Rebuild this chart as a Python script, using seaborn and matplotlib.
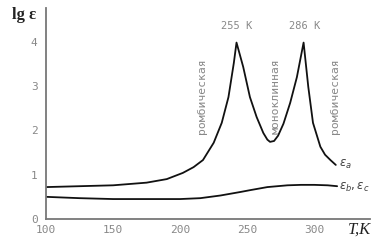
import matplotlib
matplotlib.use("Agg")
import matplotlib.pyplot as plt
import seaborn as sns
import pandas as pd

# Data
T_a = [100, 125, 150, 175, 190, 202, 210, 217, 225, 231, 236, 240, 242, 247, 252,
       257, 262, 265, 267, 270, 273, 277, 282, 287, 292, 295.5, 299, 304.5, 308, 312, 316]
eps_a = [0.72, 0.74, 0.76, 0.82, 0.90, 1.04, 1.17, 1.33, 1.72, 2.17, 2.75, 3.52, 3.98,
         3.43, 2.75, 2.30, 1.94, 1.79, 1.74, 1.76, 1.88, 2.15, 2.62, 3.20, 3.98, 2.98,
         2.17, 1.63, 1.45, 1.33, 1.22]
T_bc = [100, 125, 150, 175, 200, 215, 230, 245, 252, 265, 280, 290, 300, 310, 317]
eps_bc = [0.50, 0.47, 0.45, 0.45, 0.45, 0.47, 0.53, 0.61, 0.65, 0.72, 0.76, 0.77,
          0.77, 0.76, 0.74]
x_ticks = [100, 150, 200, 250, 300]
y_ticks = [0, 1, 2, 3, 4]
peak_labels = ["255 K", "286 K"]
phase_labels = ["ромбическая", "моноклинная", "ромбическая"]

sns.set_style("white")
plt.rcParams['font.family'] = ['DejaVu Sans']

fig = plt.figure(figsize=(3.91, 2.52), dpi=100)
ax = fig.add_axes([46/391, 1-219/252, (370-46)/391, (219-8)/252])

df_a = pd.DataFrame({"T": T_a, "eps": eps_a})
df_bc = pd.DataFrame({"T": T_bc, "eps": eps_bc})
sns.lineplot(data=df_a, x="T", y="eps", ax=ax, color="#111111", lw=1.3)
sns.lineplot(data=df_bc, x="T", y="eps", ax=ax, color="#111111", lw=1.3)

ax.set_xlim(100, 341.5)
ax.set_ylim(0, 4.76)
ax.set_xticks(x_ticks)
ax.set_yticks(y_ticks)
ax.set_xlabel("")
ax.set_ylabel("")
for s in ["top", "right"]:
    ax.spines[s].set_visible(False)
for s in ["left", "bottom"]:
    ax.spines[s].set_color("#777777")
    ax.spines[s].set_linewidth(1.3)
ax.tick_params(axis="x", direction="in", length=10, width=1.3, color="#777777",
               labelsize=8, labelcolor="#888888", pad=4)
ax.tick_params(axis="y", direction="in", length=11, width=1.3, color="#777777",
               labelsize=8, labelcolor="#888888", pad=6)
for lab in ax.get_xticklabels() + ax.get_yticklabels():
    lab.set_family("DejaVu Sans Mono")

mono = dict(family="DejaVu Sans Mono", color="#888888", fontsize=7.5)
rot = dict(family="DejaVu Sans Mono", color="#888888", fontsize=8.2)
ax.text(242, 4.35, peak_labels[0], ha="center", va="center", **mono)
ax.text(293, 4.35, peak_labels[1], ha="center", va="center", **mono)
ax.text(216.5, 2.78, phase_labels[0], rotation=90, ha="center", va="center", **rot)
ax.text(271, 2.78, phase_labels[1], rotation=90, ha="center", va="center", **rot)
ax.text(315.5, 2.78, phase_labels[2], rotation=90, ha="center", va="center", **rot)

serif = "DejaVu Serif"
ax.text(318.5, 1.24, r"$\varepsilon_a$", fontsize=8.5, color="#444444", va="center",
        ha="left", family=serif)
ax.text(318.5, 0.72, r"$\varepsilon_b,\varepsilon_c$", fontsize=8.5, color="#444444",
        va="center", ha="left", family=serif)

fig.text(24/391, 1-15/252, "lg ε", fontsize=12, ha="center", va="center",
         family="Liberation Serif", fontweight="bold", color="#222222")
fig.text(360/391, 1-230/252, "T,K", fontsize=12, ha="center", va="center",
         family="Liberation Serif", style="italic", color="#222222")

fig.savefig("out.png", dpi=100)
